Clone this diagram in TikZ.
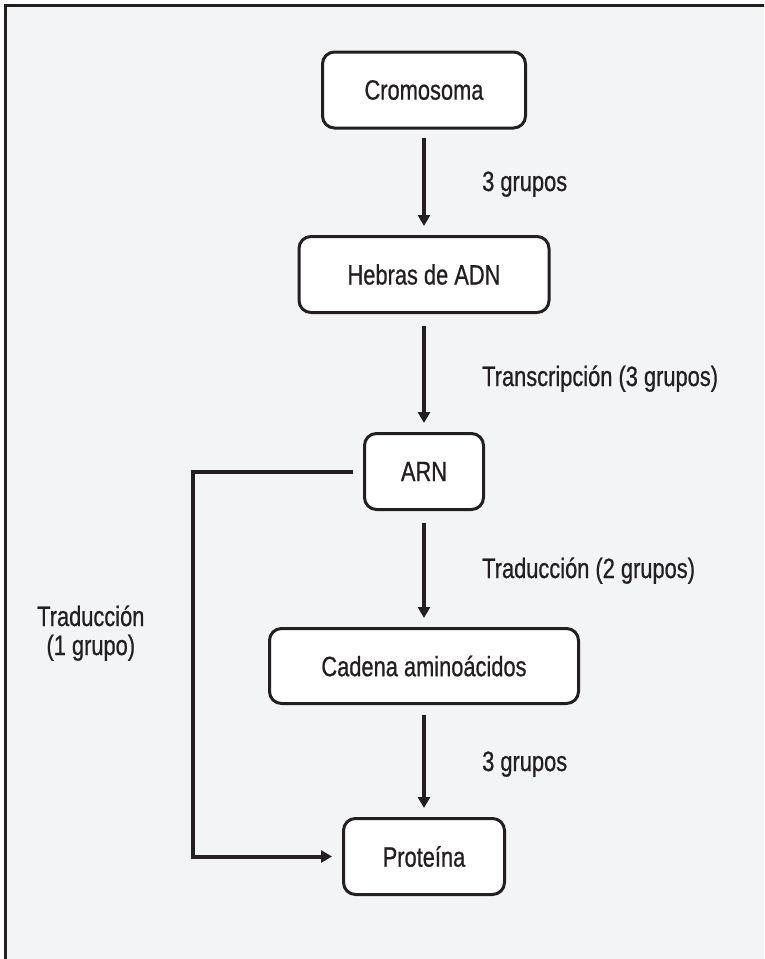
\documentclass[tikz,border=0pt]{standalone}
\usepackage{fontspec}
\setmainfont[FakeStretch=0.78, FakeBold=0.7]{Liberation Sans}
\usetikzlibrary{arrows.meta}
\definecolor{ink}{HTML}{231F20}
\definecolor{bgc}{HTML}{F3F4F6}
\tikzset{
  box/.style={draw=ink, line width=3pt, rounded corners=12pt, fill=white,
    inner sep=0pt, text=ink, font=\fontsize{28}{29}\selectfont},
  conn/.style={draw=ink, line width=4pt, -{Triangle[length=11pt,width=12pt]},
    shorten <=8pt, shorten >=9pt},
  lbl/.style={anchor=base west, inner sep=0pt, text=ink, font=\fontsize{28}{29}\selectfont},
}
\begin{document}
\begin{tikzpicture}[x=1pt,y=-1pt]
\useasboundingbox (0,0) rectangle (764,959);
\clip (0,0) rectangle (764,959);
\fill[white] (0,0) rectangle (764,959);
\fill[bgc] (5.5,5.5) rectangle (770,965);
\draw[ink, line width=3pt] (5.5,965) -- (5.5,5.5) -- (770,5.5);

\node[box, minimum width=203pt, minimum height=76pt] (crom) at (424,90) {Cromosoma};
\node[box, minimum width=250pt, minimum height=76pt] (heb) at (424,274.5) {Hebras de ADN};
\node[box, minimum width=119pt, minimum height=76pt] (arn) at (424,471.5) {ARN};
\node[box, minimum width=309pt, minimum height=75pt] (cad) at (424,666) {Cadena aminoácidos};
\node[box, minimum width=161pt, minimum height=76pt] (prot) at (424,856.5) {Proteína};

\draw[conn] (crom) -- (heb);
\draw[conn, shorten <=12pt] (heb) -- (arn);
\draw[conn, shorten <=12pt] (arn) -- (cad);
\draw[conn, shorten <=10pt] (cad) -- (prot);
\draw[conn, shorten <=10pt, shorten >=10pt] (arn.west) -- ++(-170,0) |- (prot.west);

\node[lbl] (l1) at (482,191) {3 grupos};
\node[lbl] (l2) at (482,386) {Transcripción (3 grupos)};
\node[lbl] (l3) at (482,578) {Traducción (2 grupos)};
\node[lbl] (l4) at (482,771) {3 grupos};
\node[lbl, align=center] (l5) at (37,655) {Traducción\\(1 grupo)};
\end{tikzpicture}
\end{document}
